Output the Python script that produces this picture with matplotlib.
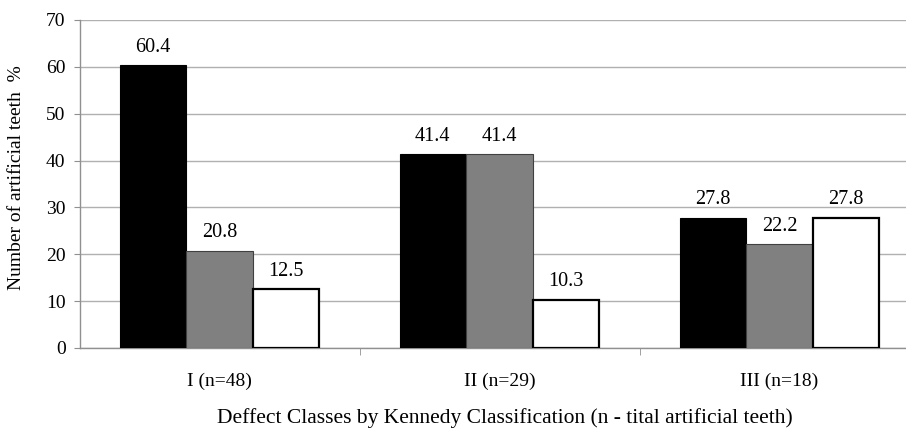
import matplotlib
matplotlib.use("Agg")
import matplotlib.pyplot as plt
import numpy as np

# data
groups = ["I (n=48)", "II (n=29)", "III (n=18)"]
black_vals = [60.4, 41.4, 27.8]
gray_vals = [20.8, 41.4, 22.2]
white_vals = [12.5, 10.3, 27.8]

plt.rcParams['font.family'] = ['Liberation Serif', 'DejaVu Serif']

fig = plt.figure(figsize=(9.06, 4.30), dpi=100)
ax = fig.add_axes([79.5 / 906, 82 / 430, 840 / 906, 328 / 430])

x = np.arange(len(groups))
w = 0.238

series = [
    (black_vals, "black", "black", 0.8),
    (gray_vals, "#808080", "#404040", 0.8),
    (white_vals, "white", "black", 1.6),
]
for k, (vals, fc, ec, lw) in enumerate(series):
    pos = x + (k - 1) * w
    ax.bar(pos, vals, width=w, color=fc, edgecolor=ec, linewidth=lw, zorder=3)
    for p, v in zip(pos, vals):
        ax.annotate(f"{v:.1f}", (p, v), xytext=(0, 6), textcoords="offset points",
                    ha="center", va="bottom", fontsize=14.5)

ax.set_ylim(0, 70)
ax.set_yticks(range(0, 71, 10))
ax.set_xlim(-0.5, 2.5)
ax.set_xticks(x)
ax.set_xticklabels(groups)
ax.set_xticks([0.5, 1.5, 2.5], minor=True)

ax.yaxis.grid(True, color="#b0b0b0", linewidth=1.0, zorder=0)
ax.set_axisbelow(True)

for s in ["top", "right"]:
    ax.spines[s].set_visible(False)
for s in ["left", "bottom"]:
    ax.spines[s].set_color("#909090")
    ax.spines[s].set_linewidth(1.0)

ax.tick_params(axis="y", direction="out", length=4, color="#909090", labelsize=14, pad=6)
ax.tick_params(axis="x", which="major", length=0, labelsize=14, pad=18)
ax.tick_params(axis="x", which="minor", direction="out", length=5, color="#909090")

# axis titles placed in figure pixels, as in the reference
fig.text(17 / 906, 1 - 178 / 430, "Number of artificial teeth  %", rotation=90,
         ha="center", va="center", fontsize=14)
fig.text(505 / 906, 1 - 418 / 430,
         "Deffect Classes by Kennedy Classification (n - tital artificial teeth)",
         ha="center", va="center", fontsize=15.5)

fig.savefig("out.png", dpi=100)
